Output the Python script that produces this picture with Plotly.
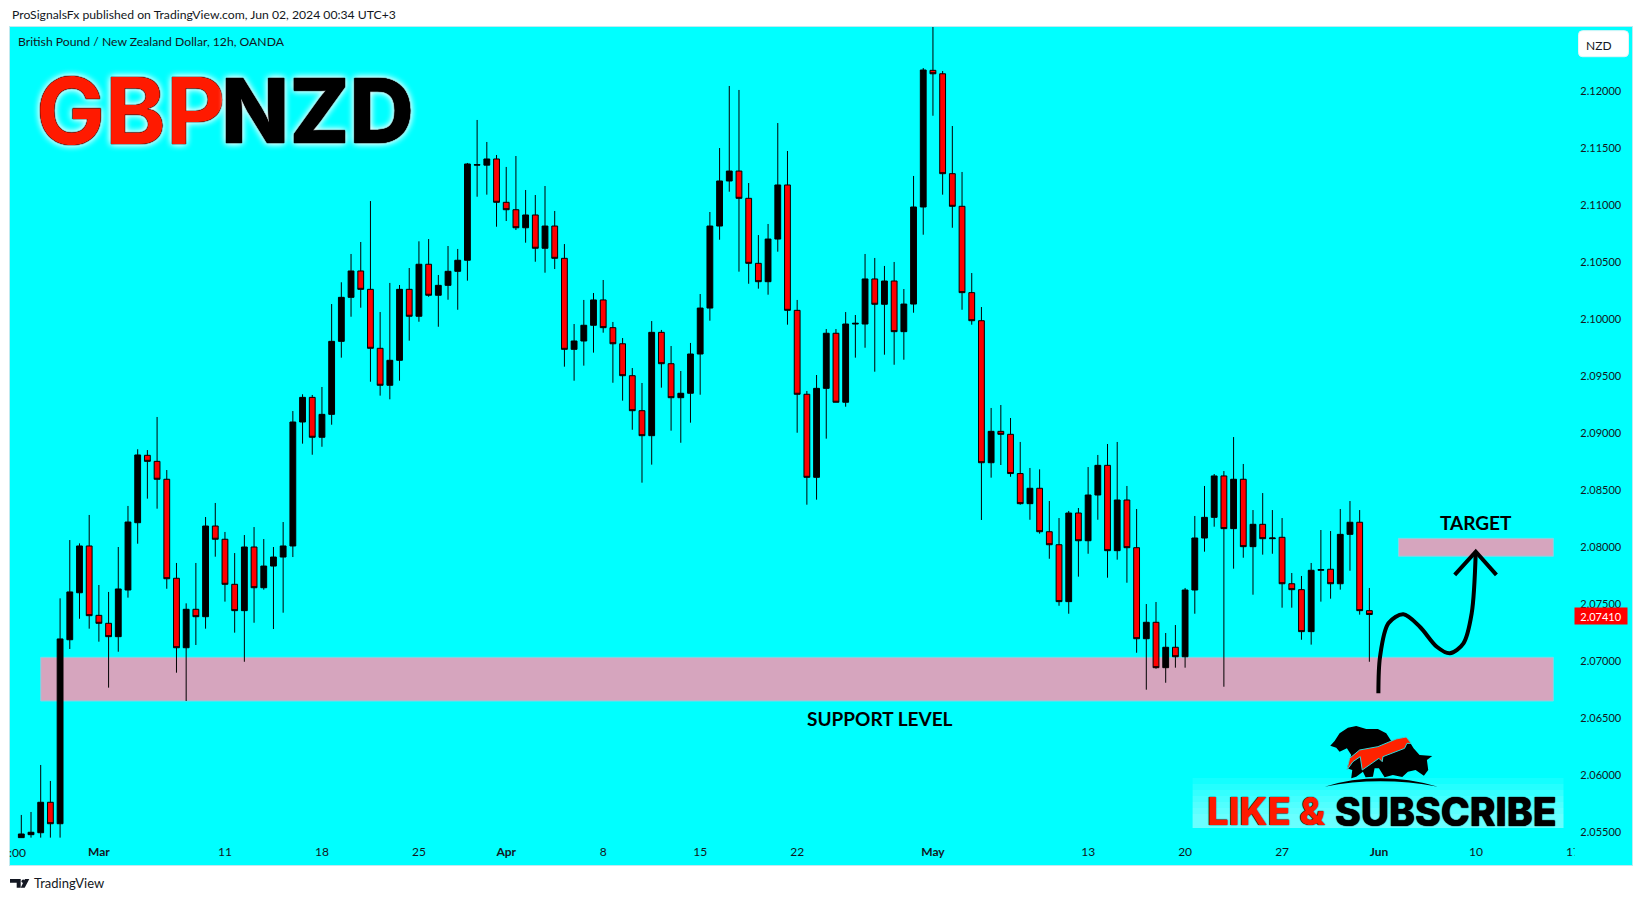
import plotly.graph_objects as go

bars = list(range(140))
opens = [2.05454,2.05480,2.05497,2.05764,2.05576,2.07189,2.07601,2.08011,2.07403,2.07333,
2.07216,2.07625,2.08215,2.08806,2.08753,2.08596,2.07728,2.07119,2.07456,2.07391,
2.08186,2.08070,2.07675,2.07444,2.08002,2.07645,2.07835,2.07914,2.08011,2.09098,
2.09314,2.08964,2.09165,2.09805,2.10191,2.10422,2.10261,2.09744,2.09420,2.09639,
2.10261,2.10025,2.10481,2.10209,2.10296,2.10419,2.10516,2.11350,2.11350,2.11404,
2.11024,2.10959,2.10801,2.10913,2.10621,2.10816,2.10533,2.09735,2.09808,2.09946,
2.10168,2.09925,2.09784,2.09504,2.09197,2.08978,2.09884,2.09609,2.09311,2.09350,
2.09694,2.10097,2.10816,2.11211,2.11298,2.11059,2.10489,2.10328,2.10702,2.11176,
2.10077,2.09341,2.08613,2.09393,2.09876,2.09271,2.09957,2.09957,2.10352,2.10130,
2.10334,2.09890,2.10132,2.10983,2.12181,2.12151,2.11275,2.10989,2.10232,2.09986,
2.08741,2.09016,2.08990,2.08646,2.08382,2.08517,2.08136,2.08022,2.07523,2.08300,
2.08057,2.08458,2.08718,2.07970,2.08414,2.07996,2.07198,2.07342,2.06944,2.07123,
2.07040,2.07625,2.08081,2.08262,2.08625,2.08163,2.08596,2.08005,2.08201,2.08075,
2.08087,2.07680,2.07628,2.07260,2.07798,2.07807,2.07680,2.08113,2.08219,2.07444]
highs = [2.05653,2.05679,2.06091,2.05951,2.07552,2.08063,2.08034,2.08283,2.07669,2.07608,
2.08002,2.08362,2.08859,2.08852,2.09142,2.08677,2.07862,2.07508,2.07862,2.08265,
2.08388,2.08134,2.07949,2.08107,2.08177,2.08072,2.08002,2.08221,2.09194,2.09341,
2.09335,2.09405,2.10132,2.10323,2.10571,2.10676,2.11035,2.10062,2.10317,2.10299,
2.10448,2.10682,2.10702,2.10387,2.10641,2.10615,2.11369,2.11746,2.11553,2.11439,
2.11334,2.11430,2.11132,2.11088,2.11167,2.10948,2.10658,2.09957,2.10168,2.10229,
2.10343,2.09975,2.09834,2.09571,2.09440,2.09983,2.09905,2.09764,2.09545,2.09791,
2.10220,2.10939,2.11500,2.12044,2.12009,2.11193,2.10737,2.10834,2.11719,2.11474,
2.10168,2.09370,2.09510,2.09913,2.09913,2.10062,2.10036,2.10571,2.10536,2.10466,
2.10501,2.10264,2.11255,2.12201,2.12600,2.12175,2.11693,2.11290,2.10404,2.10106,
2.09221,2.09247,2.09133,2.08923,2.08695,2.08683,2.08405,2.08256,2.08318,2.08344,
2.08703,2.08809,2.08905,2.08923,2.08537,2.08335,2.07502,2.07520,2.07248,2.07318,
2.07643,2.08274,2.08537,2.08642,2.08668,2.08966,2.08730,2.08326,2.08475,2.08326,
2.08256,2.07774,2.07748,2.07862,2.08151,2.08142,2.08335,2.08405,2.08326,2.07643]
lows = [2.05454,2.05454,2.05454,2.05454,2.05454,2.07108,2.07373,2.07286,2.07172,2.06769,
2.07084,2.07558,2.08031,2.08426,2.08338,2.07636,2.06900,2.06652,2.07143,2.07286,
2.07917,2.07523,2.07251,2.06996,2.07338,2.07628,2.07283,2.07426,2.07914,2.08908,
2.08811,2.08881,2.09074,2.09662,2.10021,2.10100,2.09451,2.09329,2.09297,2.09460,
2.09811,2.09977,2.10196,2.09933,2.10170,2.10082,2.10337,2.11073,2.11091,2.10810,
2.10860,2.10781,2.10670,2.10503,2.10407,2.10439,2.09583,2.09460,2.09592,2.09706,
2.09881,2.09442,2.09285,2.09030,2.08566,2.08724,2.09399,2.09022,2.08916,2.09092,
2.09337,2.09986,2.10696,2.11117,2.10416,2.10310,2.10267,2.10214,2.10591,2.09951,
2.09004,2.08373,2.08417,2.08952,2.09271,2.09232,2.09662,2.09749,2.09539,2.09688,
2.09600,2.09644,2.10056,2.10740,2.11783,2.11091,2.10801,2.10082,2.09951,2.08239,
2.08610,2.08721,2.08618,2.08373,2.08241,2.08119,2.07899,2.07487,2.07417,2.07742,
2.07943,2.08241,2.07733,2.07891,2.07689,2.07075,2.06751,2.06935,2.06812,2.06944,
2.06944,2.07417,2.07961,2.08180,2.06777,2.07812,2.07908,2.07584,2.07935,2.07943,
2.07470,2.07470,2.07189,2.07146,2.07523,2.07549,2.07628,2.07794,2.07409,2.06996]
closes = [2.05486,2.05501,2.05764,2.05576,2.07196,2.07608,2.08011,2.07400,2.07333,2.07216,
2.07634,2.08221,2.08809,2.08753,2.08596,2.07724,2.07119,2.07456,2.07391,2.08186,
2.08070,2.07675,2.07444,2.08002,2.07645,2.07835,2.07914,2.08011,2.09098,2.09314,
2.08964,2.09165,2.09805,2.10191,2.10422,2.10261,2.09744,2.09420,2.09639,2.10261,
2.10025,2.10481,2.10209,2.10296,2.10419,2.10516,2.11360,2.11354,2.11404,2.11024,
2.10959,2.10801,2.10913,2.10621,2.10816,2.10533,2.09735,2.09808,2.09946,2.10168,
2.09925,2.09784,2.09504,2.09197,2.08978,2.09884,2.09609,2.09311,2.09350,2.09694,
2.10097,2.10816,2.11211,2.11298,2.11059,2.10489,2.10328,2.10702,2.11176,2.10077,
2.09341,2.08613,2.09393,2.09876,2.09271,2.09957,2.09963,2.10352,2.10130,2.10334,
2.09890,2.10132,2.10983,2.12184,2.12151,2.11275,2.10989,2.10232,2.09986,2.08741,
2.09016,2.08990,2.08646,2.08382,2.08517,2.08136,2.08022,2.07523,2.08300,2.08057,
2.08458,2.08718,2.07970,2.08414,2.07996,2.07198,2.07342,2.06944,2.07123,2.07040,
2.07625,2.08081,2.08262,2.08625,2.08163,2.08596,2.08005,2.08201,2.08075,2.08081,
2.07680,2.07628,2.07260,2.07798,2.07804,2.07680,2.08113,2.08219,2.07444,2.07410]

tick_bars = [8,21,31,41,50,60,70,80,94,110,120,130,140,150,160]
tick_labels = ["<b>Mar</b>","11","18","25","<b>Apr</b>","8","15","22","<b>May</b>","13","20","27","<b>Jun</b>","10","17"]
price_ticks = [2.055,2.06,2.065,2.07,2.075,2.08,2.085,2.09,2.095,2.10,2.105,2.11,2.115,2.12]

support_bars = [2,157.97]
support_prices = [2.06652,2.07035]
target_bars = [142.0,157.97]
target_prices = [2.07921,2.08078]
path_bars = [139.93,140.1,140.96,142.5,144.2,145.95,147.3,148.7,149.55,149.97]
path_prices = [2.0672,2.0704,2.07333,2.07412,2.07303,2.07128,2.0707,2.07158,2.07421,2.07961]
head_bars = [147.8,149.97,152.1]
head_prices = [2.07758,2.07961,2.07758]
last_price = 2.07410

L, R, T, B = 10, 1632.5, 27, 865
def px(x): return (x - L) / (R - L)
def py(y): return (B - y) / (B - T)
def poly(pts, ox=0, oy=0, s=1.0):
    return "M" + " L".join(f"{px(ox+a*s):.5f},{py(oy+b*s):.5f}" for a, b in pts) + " Z"

MONO = "Lato"
INK = "#131722"
fig = go.Figure()
fig.add_trace(go.Candlestick(x=bars, open=opens, high=highs, low=lows, close=closes,
    increasing=dict(line=dict(color="#000000", width=1), fillcolor="#000000"),
    decreasing=dict(line=dict(color="#000000", width=1), fillcolor="#FF0000"),
    showlegend=False, hoverinfo="skip"))
fig.add_trace(go.Scatter(x=path_bars, y=path_prices, mode="lines", showlegend=False, hoverinfo="skip",
    line=dict(color="#000000", width=4, shape="spline", smoothing=0.9)))
fig.add_trace(go.Scatter(x=head_bars, y=head_prices, mode="lines", showlegend=False, hoverinfo="skip",
    line=dict(color="#000000", width=4)))

shapes = []
for xs, ys in ((support_bars, support_prices), (target_bars, target_prices)):
    shapes.append(dict(type="rect", xref="x", yref="y", x0=xs[0], x1=xs[1], y0=ys[0], y1=ys[1],
                       fillcolor="#D6A5BE", line=dict(color="#7FD6E6", width=1), layer="below"))
# hide the clipped part of the last date label, as the price scale does
shapes.append(dict(type="rect", xref="paper", yref="paper", x0=px(1575), x1=px(1632), y0=py(862), y1=py(842),
                   fillcolor="#00FFFF", line=dict(width=0), layer="above"))
# NZD button
bx0, bx1, by0, by1, r = 1579, 1629, 30.7, 56.7, 4
def p2(x, y): return f"{px(x):.5f},{py(y):.5f}"
shapes.append(dict(type="path", xref="paper", yref="paper",
    path=(f"M{p2(bx0+r,by0)} L{p2(bx1-r,by0)} Q{p2(bx1,by0)} {p2(bx1,by0+r)} L{p2(bx1,by1-r)} Q{p2(bx1,by1)} {p2(bx1-r,by1)} "
          f"L{p2(bx0+r,by1)} Q{p2(bx0,by1)} {p2(bx0,by1-r)} L{p2(bx0,by0+r)} Q{p2(bx0,by0)} {p2(bx0+r,by0)} Z"),
    fillcolor="#FFFFFF", line=dict(color="#E6F4F6", width=1), layer="above"))
# glow behind like & subscribe
for k in range(7):
    shapes.append(dict(type="rect", xref="paper", yref="paper", x0=px(1193), x1=px(1564),
                       y0=py(828), y1=py(778 + k * 6), fillcolor="#FFFFFF", opacity=0.075,
                       line=dict(width=0), layer="above"))
# bear and bull emblem
LX, LY, S = 1290, 715, 1/3
black_pts = [(122,92),(135,78),(150,55),(175,38),(200,33),(230,42),(265,42),(290,55),(305,78),(340,68),(360,80),
             (372,100),(390,120),(428,123),(412,135),(416,165),(403,182),(378,165),(355,170),(338,186),(310,180),
             (285,187),(268,160),(255,160),(250,185),(228,187),(220,170),(200,185),(185,190),(188,165),(172,160),
             (185,120),(172,100),(150,110),(140,98)]
red_pts = [(172,165),(180,130),(210,105),(265,95),(320,72),(350,66),(365,85),(352,85),(345,100),(280,125),(278,140),
           (268,130),(218,165),(212,125),(190,140)]
shapes.append(dict(type="path", xref="paper", yref="paper", path=poly(black_pts, LX, LY, S),
                   fillcolor="#000000", line=dict(width=0), layer="above"))
shapes.append(dict(type="path", xref="paper", yref="paper", path=poly(red_pts, LX, LY, S),
                   fillcolor="#FF2200", line=dict(color="#30D8D8", width=1), layer="above"))
def q(a, b): return f"{px(LX+a*S):.5f},{py(LY+b*S):.5f}"
shapes.append(dict(type="path", xref="paper", yref="paper",
                   path=f"M{q(105,215)} Q{q(270,165)} {q(445,215)} Q{q(270,182)} {q(105,215)} Z",
                   fillcolor="#000000", line=dict(width=0), layer="above"))
# TradingView mark
tv1 = [(10,879),(20.7,879),(20.7,887.7),(16.7,887.7),(16.7,882.7),(10,882.7)]
tv2 = [(29.3,879),(24.7,887.7),(20.7,887.7),(25,879)]
shapes.append(dict(type="path", xref="paper", yref="paper", path=poly(tv1), fillcolor=INK, line=dict(width=0)))
shapes.append(dict(type="path", xref="paper", yref="paper", path=poly(tv2), fillcolor=INK, line=dict(width=0)))
shapes.append(dict(type="circle", xref="paper", yref="paper", x0=px(21.5), x1=px(25), y0=py(883), y1=py(879.5),
                   fillcolor=INK, line=dict(width=0)))

def note(text, x, y, size, color=INK, family=MONO, xanchor="center", **font):
    return dict(text=text, xref="paper", yref="paper", x=px(x), y=py(y), xanchor=xanchor, yanchor="middle",
                showarrow=False, font=dict(family=family, size=size, color=color, **font))

GLOW = "0 0 1px #000, 0 0 1px #000, 0 0 1px #000, 0 0 7px #fff, 0 0 7px #fff"
BOLD = "0 0 1px #000, 0 0 1px #000"
annotations = [
    note("ProSignalsFx published on TradingView.com, Jun 02, 2024 00:34 UTC+3", 9.5, 14.5, 12.2, xanchor="left"),
    note("British Pound / New Zealand Dollar, 12h, OANDA", 16.5, 41.5, 12.2, xanchor="left"),
    note("TradingView", 32, 883, 13, xanchor="left"),
    note("NZD", 1599, 45, 12),
    note(":00", 17.5, 852, 12),
    note("GBP", 131, 110, 92, color="#FF1A00", family="Inter", weight=700, shadow=GLOW),
    note("NZD", 318, 110, 89, color="#000000", family="Inter", weight=800, shadow=GLOW),
    note("LIKE &", 1266, 811, 38, color="#FF1A00", family="Inter", weight=800, shadow=BOLD),
    note("SUBSCRIBE", 1446, 811, 39, color="#000000", family="Inter", weight=800, shadow=BOLD),
    note("TARGET", 1476, 522, 19, color="#000000", weight=700),
    note("SUPPORT LEVEL", 880, 718, 19, color="#000000", weight=700),
    dict(text="2.07410", xref="paper", yref="y", x=px(1601.3), y=last_price, xanchor="center", yanchor="middle",
         showarrow=False, bgcolor="#FF0000", borderpad=0, width=52, height=16, yshift=-1,
         font=dict(family=MONO, size=11, color="#FFFFFF")),
]

fig.update_layout(
    width=1643, height=901, autosize=False,
    margin=dict(l=L, r=1643 - R, t=T, b=901 - B, pad=0),
    paper_bgcolor="#FFFFFF", plot_bgcolor="#00FFFF",
    showlegend=False, shapes=shapes, annotations=annotations,
    font=dict(family=MONO, size=12, color=INK),
    boxgap=0.25, boxgroupgap=0.2,
    xaxis=dict(range=[-1.165, 166.08], rangeslider=dict(visible=False), showgrid=False, zeroline=False,
               tickmode="array", tickvals=tick_bars, ticktext=tick_labels, ticklabelposition="inside",
               ticks="inside", ticklen=6, tickcolor="rgba(0,0,0,0)", tickfont=dict(family=MONO, size=12, color=INK),
               showline=True, mirror=True, linecolor="#BFEAF0", linewidth=1),
    yaxis=dict(range=[2.052141, 2.12561], side="right", showgrid=False, zeroline=False,
               tickmode="array", tickvals=price_ticks, ticktext=[f"{v:.5f}" for v in price_ticks],
               ticklabelposition="inside", ticks="inside", ticklen=10, tickcolor="rgba(0,0,0,0)",
               tickfont=dict(family=MONO, size=11, color=INK),
               showline=True, mirror=True, linecolor="#BFEAF0", linewidth=1),
)
fig.write_html("out.html", config=dict(displayModeBar=False),
               post_script="document.body.style.margin='0';document.documentElement.style.overflow='hidden';")
